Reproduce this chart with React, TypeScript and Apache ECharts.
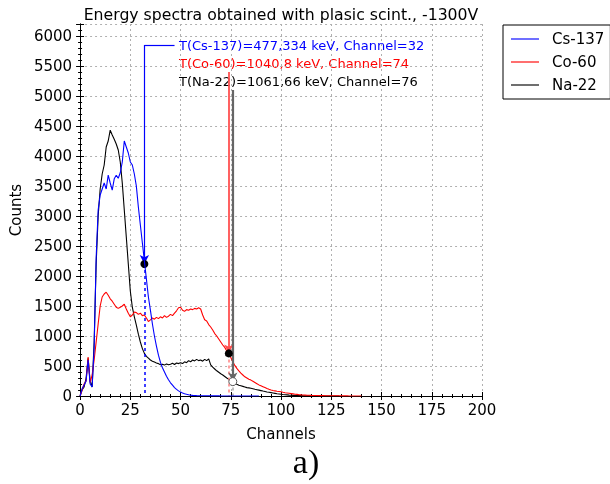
import React, { useEffect, useRef } from "react";
import * as echarts from "echarts";

const titleText = "Energy spectra obtained with plasic scint., -1300V";
const seriesNames = ["Cs-137", "Co-60", "Na-22"];
const seriesColors = ["#0000ff", "#ff0000", "#000000"];

// counts per channel, starting at channel 0
const cs137 = [
  0, 120, 180, 250, 600, 200, 150, 800, 2300, 3100,
  3350, 3450, 3550, 3450, 3680, 3550, 3430, 3620, 3680, 3630,
  3720, 3900, 4250, 4150, 4050, 3900, 3850, 3700, 3500, 3150,
  2850, 2550, 2250, 1950, 1650, 1430, 1200, 1000, 830, 680,
  560, 470, 400, 330, 270, 220, 180, 140, 110, 85,
  65, 50, 38, 28, 20, 14, 10, 8, 6, 5,
  4, 4, 3, 3, 3, 2, 2, 2, 2, 2,
  1, 1, 1, 1, 1, 1, 1, 1, 1, 1,
  0, 0, 0, 0, 0, 0, 0, 0, 0, 0,
];
const co60 = [
  0, 100, 200, 250, 650, 220, 350, 600, 900, 1200,
  1500, 1650, 1700, 1730, 1680, 1620, 1580, 1530, 1480, 1460,
  1480, 1500, 1530, 1450, 1380, 1320, 1350, 1400, 1390, 1360,
  1380, 1340, 1350, 1300, 1240, 1270, 1300, 1280, 1310, 1290,
  1320, 1300, 1340, 1310, 1330, 1360, 1340, 1380, 1420, 1470,
  1480, 1430, 1410, 1440, 1430, 1450, 1440, 1460, 1450, 1470,
  1450, 1350, 1270, 1250, 1190, 1150, 1100, 1040, 1000, 950,
  900, 850, 810, 750, 710, 640, 570, 510, 460, 420,
  380, 350, 320, 300, 280, 265, 245, 225, 205, 185,
  170, 155, 140, 125, 112, 100, 92, 85, 78, 75,
  70, 62, 55, 50, 45, 40, 35, 30, 27, 22,
  18, 16, 15, 13, 12, 10, 9, 8, 8, 7,
  6, 6, 5, 5, 4, 4, 4, 3, 3, 3,
  2, 2, 2, 2, 1, 1, 1, 1, 1, 0,
  0,
];
const na22 = [
  0, 100, 150, 300, 630, 250, 150, 900, 2200, 3000,
  3450, 3700, 3850, 4150, 4250, 4430, 4350, 4280, 4200, 4100,
  3900, 3550, 3100, 2650, 2200, 1750, 1480, 1320, 1180, 1030,
  900, 790, 710, 660, 630, 600, 580, 565, 550, 540,
  520, 530, 515, 535, 520, 530, 545, 525, 550, 540,
  555, 540, 570, 555, 590, 570, 600, 585, 610, 590,
  600, 580, 610, 590, 620, 520, 480, 450, 420, 395,
  370, 350, 325, 300, 280, 260, 240, 215, 195, 180,
  170, 160, 150, 140, 135, 128, 120, 112, 105, 98,
  90, 82, 75, 68, 62, 56, 50, 44, 38, 33,
  28, 24, 21, 18, 15, 13, 11, 9, 8, 7,
  6, 5, 5, 4, 4, 3, 3, 3, 2, 2,
  2, 1, 1, 1, 1, 1, 0, 0, 0, 0,
];

const markChannels = [32, 74, 76];
const markCounts = [2200, 710, 240];
const arrowTops = [5850, 5400, 5100];
const csElbowEnd = 47;
const annotationTexts = [
  "T(Cs-137)=477,334 keV, Channel=32",
  "T(Co-60)=1040,8 keV, Channel=74",
  "T(Na-22)=1061,66 keV, Channel=76",
];

const xMin = 0, xMax = 200, xStep = 25;
const yMin = 0, yMax = 6200, yStep = 500;

const FONT = "DejaVu Sans";

export default function App() {
  const ref = useRef<HTMLDivElement>(null);
  useEffect(() => {
    if (!ref.current) return;
    const chart = echarts.init(ref.current, undefined, { renderer: "svg" });
    const allData = [cs137, co60, na22];
    const arrowColors = ["#0000ff", "#ff5050", "#666666"];
    const arrowWidths = [1.2, 1.8, 2.2];
    const dropColors = ["#0000ff", "#ff8080", "#aaaaaa"];
    const legendColors = ["#6f6fff", "#ff6f6f", "#6f6f6f"];

    const series: any[] = allData.map((arr, i) => {
      const markData: any[] = [
        [
          { coord: [markChannels[i], arrowTops[i]], symbol: "none" },
          { coord: [markChannels[i], markCounts[i]], symbol: "arrow", symbolSize: [7, 9] },
        ],
        [
          { coord: [markChannels[i], markCounts[i]], symbol: "none", lineStyle: { type: [3, 3], color: dropColors[i], width: 1.5 } },
          { coord: [markChannels[i], 0], symbol: "none" },
        ],
      ];
      if (i === 0) {
        markData.push([
          { coord: [markChannels[i], arrowTops[i]], symbol: "none" },
          { coord: [csElbowEnd, arrowTops[i]], symbol: "none" },
        ]);
      }
      return {
        name: seriesNames[i],
        type: "line",
        symbol: "none",
        data: arr.map((v, k) => [k, v]),
        lineStyle: { color: seriesColors[i], width: 1.1 },
        itemStyle: { color: legendColors[i] },
        z: 3 - i + 2,
        markLine: {
          silent: true,
          symbol: ["none", "none"],
          label: { show: false },
          lineStyle: { color: arrowColors[i], width: arrowWidths[i], type: "solid" },
          data: markData,
        },
        markPoint: {
          silent: true,
          symbol: "circle",
          symbolSize: 8,
          label: { show: false },
          itemStyle:
            i === 2
              ? { color: "#ffffff", borderColor: "#555555", borderWidth: 1 }
              : { color: "#000000" },
          data: [{ coord: [markChannels[i], markCounts[i]] }],
        },
      };
    });

    const tickLabel = { fontFamily: FONT, fontSize: 15, color: "#000" };

    chart.setOption({
      animation: false,
      grid: { left: 78, right: 128, top: 24, bottom: 88 },
      legend: {
        data: seriesNames.map((n) => ({ name: n, icon: "rect" })),
        orient: "vertical",
        left: 503,
        top: 25,
        padding: [5, 6, 5, 8],
        itemGap: 5,
        itemWidth: 28,
        itemHeight: 2,
        borderColor: "#000",
        borderWidth: 1,
        textStyle: { fontFamily: FONT, fontSize: 15, color: "#000", padding: [0, 0, 0, 8], lineHeight: 18 },
      },
      xAxis: [
        {
          type: "value",
          min: xMin,
          max: xMax,
          interval: xStep,
          name: "Channels",
          nameLocation: "middle",
          nameGap: 30,
          nameTextStyle: { fontFamily: FONT, fontSize: 15, color: "#000" },
          axisLine: { show: true, lineStyle: { color: "#000" } },
          axisTick: { show: true, inside: true, length: 4, lineStyle: { color: "#000" } },
          minorTick: { show: true, splitNumber: 5, length: 2, lineStyle: { color: "#000" } },
          axisLabel: { ...tickLabel, margin: 6 },
          splitLine: { show: true, lineStyle: { color: "#b0b0b0", type: [2, 3] } },
        },
        {
          type: "value",
          position: "top",
          min: xMin,
          max: xMax,
          interval: xStep,
          axisLine: { show: true, lineStyle: { color: "#000" } },
          axisTick: { show: true, inside: true, length: 4, lineStyle: { color: "#000" } },
          minorTick: { show: true, splitNumber: 5, length: 2, lineStyle: { color: "#000" } },
          axisLabel: { show: false },
          splitLine: { show: false },
        },
      ],
      yAxis: [
        {
          type: "value",
          min: yMin,
          max: yMax,
          interval: yStep,
          name: "Counts",
          nameLocation: "middle",
          nameGap: 50,
          nameTextStyle: { fontFamily: FONT, fontSize: 15, color: "#000" },
          axisLine: { show: true, lineStyle: { color: "#000" } },
          axisTick: { show: true, inside: true, length: 4, lineStyle: { color: "#000" } },
          minorTick: { show: true, splitNumber: 5, length: 2, lineStyle: { color: "#000" } },
          axisLabel: {
            ...tickLabel,
            margin: 8,
            formatter: (v: number) => (v % yStep === 0 ? String(v) : ""),
          },
          splitLine: { show: true, lineStyle: { color: "#b0b0b0", type: [2, 3] } },
        },
        {
          type: "value",
          position: "right",
          min: yMin,
          max: yMax,
          interval: yStep,
          axisLine: { show: true, lineStyle: { color: "#000" } },
          axisTick: { show: true, inside: true, length: 4, lineStyle: { color: "#000" } },
          minorTick: { show: true, splitNumber: 5, length: 2, lineStyle: { color: "#000" } },
          axisLabel: { show: false },
          splitLine: { show: false },
        },
      ],
      series,
      graphic: [
        {
          type: "text",
          x: 281,
          y: 14,
          style: { text: titleText, fontFamily: FONT, fontSize: 15.7, fill: "#000", textAlign: "center", textVerticalAlign: "middle" },
        },
        {
          type: "text",
          x: 179,
          y: 45,
          style: { text: annotationTexts[0], fontFamily: FONT, fontSize: 13, fill: "#0000ff", textVerticalAlign: "middle" },
        },
        {
          type: "text",
          x: 179,
          y: 63,
          style: { text: annotationTexts[1], fontFamily: FONT, fontSize: 13, fill: "#ff0000", textVerticalAlign: "middle" },
        },
        {
          type: "text",
          x: 179,
          y: 81,
          style: { text: annotationTexts[2], fontFamily: FONT, fontSize: 13, fill: "#000000", textVerticalAlign: "middle" },
        },
        {
          type: "text",
          x: 306,
          y: 461,
          style: { text: "a)", fontFamily: "Liberation Serif", fontSize: 34, fill: "#000", textAlign: "center", textVerticalAlign: "middle" },
        },
      ],
    });
    return () => chart.dispose();
  }, []);
  return <div ref={ref} style={{ position: "fixed", left: 0, top: 0, width: 610, height: 484 }} />;
}
